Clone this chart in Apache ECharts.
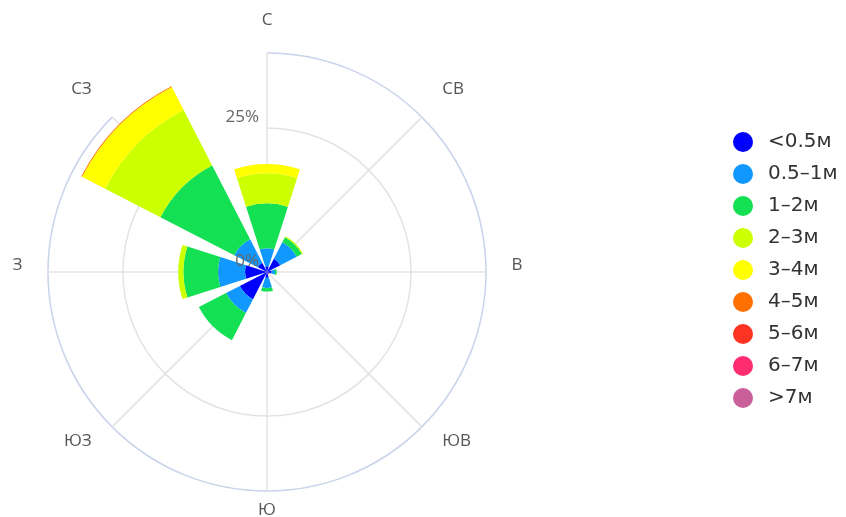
<!DOCTYPE html>
<html>
<head>
<meta charset="utf-8">
<title>Роза ветров</title>
<script src="https://cdn.jsdelivr.net/npm/echarts@6/dist/echarts.min.js"></script>
<style>
    html, body { margin: 0; padding: 0; background: #fff; }
</style>
</head>
<body>
<div id="main" style="width: 846px;height:517px;"></div>
<script type="text/javascript">
    // направления (по часовой стрелке от севера)
    var directions = ['С', 'СВ', 'В', 'ЮВ', 'Ю', 'ЮЗ', 'З', 'СЗ'];
    // градации скорости
    var classes = ['<0.5м', '0.5–1м', '1–2м', '2–3м', '3–4м', '4–5м', '5–6м', '6–7м', '>7м'];
    var colors = ['#0000ff', '#1098ff', '#13e053', '#ccff00', '#ffff00', '#ff7000', '#ff3322', '#ff2d70', '#c9609a'];

    // повторяемость, % (по направлениям)
    var lt05  = [1.0, 2.6, 0.8, 0.4, 1.0, 5.3, 3.8, 1.8];
    var s05_1 = [3.1, 3.2, 0.6, 0.0, 1.8, 2.7, 4.7, 4.6];
    var s1_2  = [7.8, 1.0, 0.3, 0.0, 0.6, 5.3, 6.0, 14.4];
    var s2_3  = [5.2, 0.2, 0.0, 0.0, 0.0, 0.0, 0.9, 10.8];
    var s3_4  = [1.6, 0.0, 0.0, 0.0, 0.0, 0.0, 0.0, 4.5];
    var s4_5  = [0.0, 0.0, 0.0, 0.1, 0.0, 0.0, 0.0, 0.15];
    var s5_6  = [0, 0, 0, 0, 0, 0, 0, 0];
    var s6_7  = [0, 0, 0, 0, 0, 0, 0, 0];
    var gt7   = [0, 0, 0, 0, 0, 0, 0, 0];

    var radiusTicks = [0, 25];
    var radiusMax = 38;

    var values = [lt05, s05_1, s1_2, s2_3, s3_4, s4_5, s5_6, s6_7, gt7];
    var series = classes.map(function (name, i) {
        return {
            name: name,
            type: 'bar',
            coordinateSystem: 'polar',
            polarIndex: 0,
            stack: 'wind',
            barCategoryGap: '21%',
            z: 5,
            itemStyle: { color: colors[i] },
            data: values[i]
        };
    });

    var myChart = echarts.init(document.getElementById('main'));
    var option = {
        animation: false,
        color: colors,
        // polar 0 - сетка и секторы, polar 1 - только подписи (чуть выше, поверх секторов)
        polar: [
            { center: [267, 272], radius: 219 },
            { center: [267, 265], radius: 219 }
        ],
        angleAxis: [{
            polarIndex: 0,
            type: 'category',
            data: directions,
            boundaryGap: false,
            startAngle: 90,
            z: 1,
            axisLine: { show: false },
            axisTick: { show: false },
            axisLabel: { show: false },
            splitLine: { show: true, lineStyle: { color: '#e3e3e3', width: 1.5 } }
        }, {
            polarIndex: 1,
            type: 'category',
            data: directions,
            boundaryGap: false,
            startAngle: 90,
            z: 10,
            axisLine: { show: false },
            axisTick: { show: false },
            splitLine: { show: false },
            axisLabel: {
                margin: 17.5,
                padding: [0, 8, 0, 8],
                color: '#555',
                fontSize: 17,
                fontFamily: 'Open Sans'
            }
        }],
        radiusAxis: [{
            polarIndex: 0,
            type: 'value',
            min: 0,
            max: radiusMax,
            interval: 25,
            z: 0,
            axisLine: { show: false },
            axisTick: { show: false },
            axisLabel: { show: false },
            splitLine: {
                show: true,
                // 0, 25%, внешний круг
                lineStyle: { color: ['#e3e3e3', '#e3e3e3', '#c9d3ea'], width: 1.5 }
            }
        }, {
            polarIndex: 1,
            type: 'value',
            min: 0,
            max: radiusMax,
            interval: 25,
            z: 10,
            axisLine: { show: false },
            axisTick: { show: false },
            splitLine: { show: false },
            axisLabel: {
                margin: 8,
                color: '#666',
                fontSize: 17,
                fontFamily: 'Open Sans',
                verticalAlign: 'bottom',
                lineHeight: 8,
                formatter: function (v) {
                    return radiusTicks.indexOf(v) >= 0 ? v + '%' : '';
                }
            }
        }],
        legend: {
            orient: 'vertical',
            left: 728,
            top: 127,
            icon: 'circle',
            itemWidth: 40,
            itemHeight: 20,
            itemGap: 12,
            data: classes,
            textStyle: {
                fontFamily: 'DejaVu Sans',
                fontSize: 20,
                color: '#333'
            }
        },
        series: series
    };
    myChart.setOption(option);
</script>
</body>
</html>
